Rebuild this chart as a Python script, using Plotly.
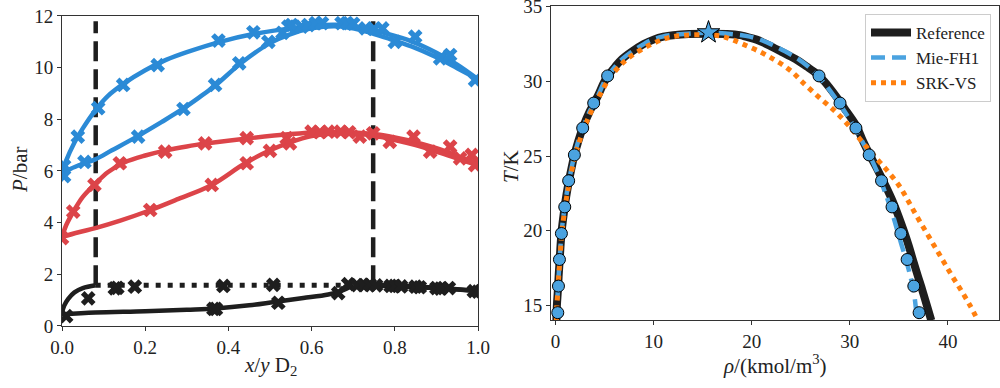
import plotly.graph_objects as go

# ---------------- Left panel data: P-x-y of D2 mixtures ----------------
# blue isotherm
blue_bub_x = [0.0, 0.01, 0.03, 0.05, 0.08, 0.11, 0.15, 0.2, 0.25, 0.3, 0.38, 0.46, 0.54, 0.6, 0.66, 0.72, 0.78, 0.84, 0.9, 0.95, 1.0]
blue_bub_p = [5.9, 6.4, 7.1, 7.65, 8.35, 8.9, 9.4, 9.9, 10.3, 10.6, 11.0, 11.3, 11.5, 11.62, 11.66, 11.56, 11.32, 11.02, 10.58, 10.12, 9.55]
blue_dew_x = [0.0, 0.02, 0.05, 0.08, 0.12, 0.18, 0.24, 0.29, 0.33, 0.37, 0.43, 0.5, 0.55, 0.6, 0.66, 0.72, 0.78, 0.84, 0.9, 0.95, 1.0]
blue_dew_p = [5.9, 6.08, 6.28, 6.45, 6.8, 7.33, 7.9, 8.4, 8.85, 9.33, 10.17, 10.95, 11.3, 11.52, 11.6, 11.45, 11.15, 10.82, 10.4, 9.98, 9.55]
blue_exp_x = [0.005, 0.038, 0.087, 0.147, 0.23, 0.376, 0.46, 0.544, 0.552, 0.576, 0.592, 0.61, 0.625, 0.672, 0.685, 0.70, 0.73, 0.75, 0.77, 0.80, 0.849, 0.909, 0.933, 0.993,
              0.005, 0.054, 0.183, 0.292, 0.368, 0.426, 0.496, 0.53]
blue_exp_p = [6.2, 7.33, 8.43, 9.33, 10.1, 11.05, 11.37, 11.59, 11.65, 11.59, 11.65, 11.72, 11.72, 11.72, 11.72, 11.7, 11.52, 11.5, 11.52, 11.0, 11.2, 10.36, 10.49, 9.52,
              5.8, 6.35, 7.33, 8.4, 9.33, 10.17, 11.0, 11.35]

# red isotherm
red_bub_x = [0.0, 0.01, 0.03, 0.05, 0.08, 0.11, 0.15, 0.2, 0.25, 0.3, 0.35, 0.45, 0.55, 0.62, 0.68, 0.75, 0.8, 0.85, 0.9, 0.95, 1.0]
red_bub_p = [3.45, 3.9, 4.5, 5.0, 5.5, 5.95, 6.33, 6.6, 6.8, 6.95, 7.07, 7.27, 7.43, 7.5, 7.5, 7.43, 7.3, 7.12, 6.88, 6.58, 6.25]
red_dew_x = [0.0, 0.04, 0.08, 0.14, 0.21, 0.28, 0.36, 0.44, 0.5, 0.55, 0.6, 0.65, 0.7, 0.75, 0.8, 0.85, 0.9, 0.95, 1.0]
red_dew_p = [3.45, 3.63, 3.79, 4.08, 4.47, 4.92, 5.46, 6.3, 6.8, 7.12, 7.35, 7.45, 7.45, 7.36, 7.2, 7.0, 6.75, 6.48, 6.22]
red_exp_x = [0.0, 0.027, 0.078, 0.139, 0.248, 0.344, 0.444, 0.212, 0.36, 0.444, 0.5, 0.54, 0.548,
             0.6, 0.62, 0.64, 0.67, 0.69, 0.716, 0.748, 0.788, 0.845, 0.885, 0.933, 0.957, 0.985, 0.993]
red_exp_p = [3.4, 4.43, 5.46, 6.3, 6.75, 7.07, 7.27, 4.49, 5.46, 6.3, 6.78, 7.27, 7.07,
             7.52, 7.5, 7.52, 7.52, 7.5, 7.33, 7.46, 7.13, 7.33, 6.75, 6.94, 6.49, 6.62, 6.23]

# black isotherm (with three-phase line)
blk_l1_x = [0.0, 0.005, 0.015, 0.03, 0.05, 0.081]
blk_l1_p = [0.5, 0.78, 1.05, 1.3, 1.47, 1.58]
blk_v1_x = [0.0, 0.08, 0.2, 0.3, 0.37, 0.45, 0.51, 0.58, 0.64, 0.67, 0.70]
blk_v1_p = [0.45, 0.52, 0.57, 0.63, 0.68, 0.8, 0.93, 1.08, 1.22, 1.35, 1.58]
blk_v2_x = [0.70, 0.75, 0.8, 0.85, 0.9, 0.95, 1.0]
blk_v2_p = [1.58, 1.56, 1.53, 1.5, 1.46, 1.41, 1.35]
blk_l2_x = [0.748, 0.8, 0.85, 0.9, 0.95, 1.0]
blk_l2_p = [1.6, 1.57, 1.53, 1.48, 1.42, 1.35]
vlle_x = [0.081, 0.748]
vlle_p = [1.58, 1.58]
lle_left_x = [0.081, 0.081]
lle_right_x = [0.748, 0.748]
lle_p = [1.58, 11.8]
blk_exp_x = [0.01, 0.063, 0.127, 0.133, 0.175, 0.388, 0.364, 0.37, 0.508, 0.52, 0.664, 0.688, 0.71, 0.725, 0.74, 0.755,
             0.79, 0.8, 0.815, 0.85, 0.86, 0.9, 0.91, 0.93, 0.99, 1.0]
blk_exp_p = [0.38, 1.07, 1.46, 1.48, 1.52, 1.55, 0.66, 0.66, 1.59, 0.9, 1.27, 1.62, 1.58, 1.58, 1.6, 1.57,
             1.55, 1.55, 1.53, 1.52, 1.5, 1.47, 1.45, 1.47, 1.35, 1.33]

# ---------------- Right panel data: T-rho saturation curve ----------------
T_grid = [14.0, 15.0, 16.0, 17.0, 18.0, 19.0, 20.0, 21.0, 22.0, 23.0, 24.0, 25.0, 26.0, 27.0, 28.0, 29.0, 30.0, 30.5, 31.0, 31.5, 32.0, 32.5, 32.8, 33.0, 33.1]
ref_vap = [0.1, 0.15, 0.25, 0.33, 0.43, 0.52, 0.64, 0.82, 1.03, 1.28, 1.58, 1.91, 2.33, 2.85, 3.5, 4.3, 5.0, 5.5, 6.1, 6.8, 7.8, 9.0, 10.0, 11.0, 12.0]
ref_liq = [38.3, 37.85, 37.4, 36.92, 36.45, 36.0, 35.5, 34.95, 34.35, 33.65, 32.9, 32.1, 31.35, 30.68, 29.66, 28.6, 27.4, 26.65, 25.6, 24.45, 23.0, 21.5, 20.5, 19.4, 18.8]
ref_crit = [15.5, 33.19]
mie_vap = [0.1, 0.15, 0.25, 0.33, 0.43, 0.52, 0.64, 0.82, 1.03, 1.28, 1.58, 1.91, 2.33, 2.85, 3.5, 4.3, 5.0, 5.5, 6.1, 6.8, 7.8, 9.0, 9.9, 10.9, 11.8]
mie_liq = [36.85, 36.7, 36.5, 36.15, 35.75, 35.3, 34.85, 34.4, 33.9, 33.35, 32.75, 32.05, 31.25, 30.4, 29.45, 28.4, 27.25, 26.55, 25.75, 24.75, 23.45, 21.95, 20.85, 19.8, 19.0]
mie_crit = [15.6, 33.26]
srk_vap = [0.1, 0.15, 0.25, 0.34, 0.45, 0.55, 0.68, 0.86, 1.08, 1.35, 1.66, 2.0, 2.45, 3.0, 3.65, 4.45, 5.3, 5.85, 6.5, 7.3, 8.4, 9.8, 10.9, 12.0, 13.3]
srk_liq = [43.05, 42.25, 41.35, 40.4, 39.5, 38.6, 37.7, 36.8, 35.95, 35.05, 33.85, 32.5, 31.2, 29.95, 28.5, 26.75, 25.1, 24.35, 23.4, 22.2, 20.8, 19.1, 18.0, 17.1, 16.2]
srk_crit = [15.0, 33.13]
sim_T = [14.52, 16.3, 18.08, 19.82, 21.6, 23.35, 25.08, 26.88, 28.55, 30.37]
sim_vap = [0.24, 0.31, 0.41, 0.61, 0.95, 1.35, 1.93, 2.78, 3.9, 5.32]
sim_liq = [37.06, 36.52, 35.84, 35.2, 34.3, 33.23, 31.97, 30.62, 29.0, 26.86]
star_rho = [15.6]
star_T = [33.28]

BLUE = "#2b8ad6"
RED = "#dc4449"
BLACK = "#1e1e1e"
MIE = "#4ba3e0"
ORANGE = "#ff7f0e"
FONT = "Liberation Serif"

fig = go.Figure()


def line(x, y, color, width, dash="solid", xa="x", ya="y", shape="spline", name=None, legend=False):
    fig.add_trace(go.Scatter(x=x, y=y, mode="lines", xaxis=xa, yaxis=ya,
                             line=dict(color=color, width=width, dash=dash, shape=shape),
                             name=name, showlegend=legend, hoverinfo="skip"))


# left panel: dashed LLE lines and dotted VLLE line
line(lle_left_x, lle_p, BLACK, 4.5, dash="20px,8px", shape="linear")
line(lle_right_x, lle_p, BLACK, 4.5, dash="20px,8px", shape="linear")
line(vlle_x, vlle_p, BLACK, 5, dash="5px,7px", shape="linear")

for xs, ps, c in [(blue_bub_x, blue_bub_p, BLUE), (blue_dew_x, blue_dew_p, BLUE),
                  (red_bub_x, red_bub_p, RED), (red_dew_x, red_dew_p, RED),
                  (blk_l1_x, blk_l1_p, BLACK), (blk_v1_x, blk_v1_p, BLACK),
                  (blk_v2_x, blk_v2_p, BLACK), (blk_l2_x, blk_l2_p, BLACK)]:
    line(xs, ps, c, 4.5)

for xs, ps, c in [(blue_exp_x, blue_exp_p, BLUE), (red_exp_x, red_exp_p, RED), (blk_exp_x, blk_exp_p, BLACK)]:
    fig.add_trace(go.Scatter(x=xs, y=ps, mode="markers", showlegend=False, hoverinfo="skip",
                             marker=dict(symbol="x", size=13, color=c, line=dict(width=0))))

# right panel
def dome(vap, liq, crit):
    xs = list(vap) + [crit[0]] + list(reversed(liq))
    ys = list(T_grid) + [crit[1]] + list(reversed(T_grid))
    return xs, ys

rx, ry = dome(ref_vap, ref_liq, ref_crit)
line(rx, ry, BLACK, 8, xa="x2", ya="y2", name="Reference", legend=True)
mx, my = dome(mie_vap, mie_liq, mie_crit)
line(mx, my, MIE, 4.5, dash="14px,7px", xa="x2", ya="y2", name="Mie-FH1", legend=True)
sx, sy = dome(srk_vap, srk_liq, srk_crit)
line(sx, sy, ORANGE, 5, dash="5px,5px", xa="x2", ya="y2", name="SRK-VS", legend=True)

fig.add_trace(go.Scatter(x=sim_vap + sim_liq, y=sim_T + sim_T, mode="markers", xaxis="x2", yaxis="y2",
                         showlegend=False, hoverinfo="skip",
                         marker=dict(symbol="circle", size=12, color=MIE, line=dict(color="black", width=1))))
fig.add_trace(go.Scatter(x=star_rho, y=star_T, mode="markers", xaxis="x2", yaxis="y2",
                         showlegend=False, hoverinfo="skip",
                         marker=dict(symbol="star", size=17, color=MIE, line=dict(color="black", width=1))))

axis_common = dict(showgrid=False, zeroline=False, showline=True, linecolor="#333333", linewidth=1,
                   mirror=True, ticks="outside", ticklen=4, tickwidth=1, tickcolor="#333333",
                   automargin=False, ticklabeloverflow="allow",
                   tickfont=dict(family=FONT, size=19, color="#222222"))

fig.update_layout(
    width=1000, height=388,
    margin=dict(l=0, r=0, t=0, b=0, autoexpand=False),
    paper_bgcolor="white", plot_bgcolor="white",
    font=dict(family=FONT, color="#222222"),
    xaxis=dict(domain=[0.062, 0.478], range=[0, 1], anchor="y",
               tickvals=[0, 0.2, 0.4, 0.6, 0.8, 1.0], ticktext=["0.0", "0.2", "0.4", "0.6", "0.8", "1.0"],
               **axis_common),
    yaxis=dict(domain=[0.1598, 0.9588], range=[0, 12], anchor="x",
               tickvals=[0, 2, 4, 6, 8, 10, 12], **axis_common),
    xaxis2=dict(domain=[0.551, 0.999], range=[-0.45, 45.2], anchor="y2",
                tickvals=[0, 10, 20, 30, 40], **axis_common),
    yaxis2=dict(domain=[0.1753, 0.9845], range=[14.03, 35.05], anchor="x2",
                tickvals=[15, 20, 25, 30, 35], **axis_common),
    legend=dict(x=0.991, y=0.964, xanchor="right", yanchor="top", bgcolor="white",
                bordercolor="#cccccc", borderwidth=1, font=dict(family=FONT, size=17, color="#222222"),
                itemwidth=40, tracegroupgap=0),
)

annotation_texts = ["<i>P</i>/bar", "<i>x</i>/<i>y</i> D<sub>2</sub>", "<i>T</i>/K", "<i>ρ</i>/(kmol/m<sup>3</sup>)"]
annotation_px = [(20, 170, -90), (270, 366, 0), (511, 167, -90), (775, 364, 0)]
for txt, (px, py, ang) in zip(annotation_texts, annotation_px):
    fig.add_annotation(text=txt, x=px / 1000.0, y=1 - py / 388.0, xref="paper", yref="paper",
                       textangle=ang, showarrow=False, xanchor="center", yanchor="middle",
                       font=dict(family=FONT, size=21, color="#222222"))

fig.write_html("out.html", config={"displayModeBar": False},
               post_script="document.body.style.margin='0';document.body.style.overflow='hidden';")
